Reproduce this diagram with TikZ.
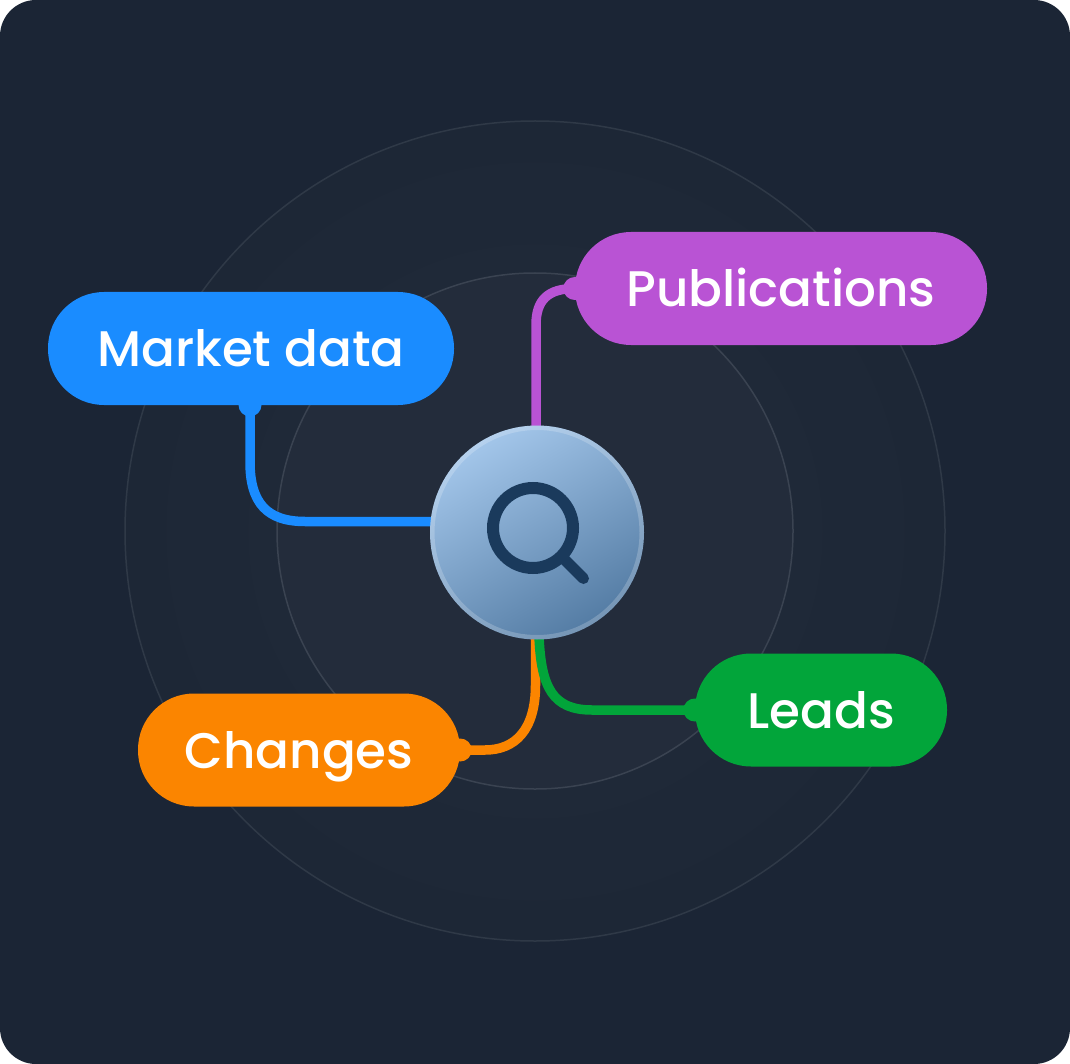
\documentclass[tikz,border=0pt]{standalone}
\usepackage{fontspec}
\setmainfont{Poppins Medium}
\definecolor{bgc}{HTML}{1B2535}
\definecolor{discA}{HTML}{1D2736}
\definecolor{discM}{HTML}{222C3B}
\definecolor{discB}{HTML}{232C3B}
\definecolor{ringA}{HTML}{2F3947}
\definecolor{ringB}{HTML}{3A4351}
\definecolor{blueC}{HTML}{1A8CFF}
\definecolor{purpleC}{HTML}{B953D4}
\definecolor{orangeC}{HTML}{FB8500}
\definecolor{greenC}{HTML}{02A53A}
\definecolor{iconC}{HTML}{1A3A5C}
\definecolor{hubA}{HTML}{A3C6EA}
\definecolor{hubB}{HTML}{547CA4}
\tikzset{
  pill/.style={rectangle,rounded corners=56pt,minimum height=113pt,inner sep=0pt,text=white,text height=36pt,text depth=0pt,font=\fontsize{50}{60}\selectfont},
  dot/.style={circle,minimum size=23pt,inner sep=0pt,fill=#1},
  wire/.style={line width=9.5pt,draw=#1},
}
\begin{document}
\begin{tikzpicture}[x=1pt,y=-1pt]
\useasboundingbox (0,0) rectangle (1070,1064);
\fill[white] (0,0) rectangle (1070,1064);
\fill[bgc,rounded corners=36pt] (0,0) rectangle (1070,1064);
\node[circle,minimum size=820pt,inner sep=0pt,inner color=discM,outer color=discA,draw=ringA,line width=1.5pt] (outer) at (535,531) {};
\node[circle,minimum size=516pt,inner sep=0pt,fill=discB,draw=ringB,line width=1.5pt] (inner) at (535,531) {};

\node[pill,fill=blueC,minimum width=406pt] (market) at (251,348.5) {Market data};
\node[pill,fill=purpleC,minimum width=412pt] (pub) at (781,288.5) {Publications};
\node[pill,fill=orangeC,minimum width=322pt] (changes) at (299,750) {Changes};
\node[pill,fill=greenC,minimum width=252pt] (leads) at (821,710) {Leads};

\node[dot=blueC] (dm) at (250,405) {};
\node[dot=purpleC] (dp) at (pub.west) {};
\node[dot=orangeC] (dc) at (changes.east) {};
\node[dot=greenC] (dl) at (leads.west) {};

\coordinate (hw) at (434,521.5);
\coordinate (hn) at (536,430);
\coordinate (hs1) at (535.5,636);
\coordinate (hs2) at (539,636);

\draw[wire=blueC] (dm.center) -- (250,462) .. controls (250,503) and (267,521.5) .. (305,521.5) -- (hw);
\draw[wire=purpleC] (hn) -- (536,325) .. controls (536,300) and (548,288.5) .. (dp.center);
\draw[wire=orangeC] (hs1) -- (535.5,685) .. controls (535.5,730) and (515,750) .. (485,750) -- (dc.center);
\draw[wire=greenC] (hs2) .. controls (541,688) and (553,710) .. (592,710) -- (dl.center);

\node[circle,minimum size=214pt,inner sep=0pt,outer sep=0pt,top color=hubA,bottom color=hubB,shading angle=30] (hub) at (537,532.5) {};
\node[circle,minimum size=209.5pt,inner sep=0pt,outer sep=0pt,draw=white,draw opacity=0.2,line width=4.5pt] (hubring) at (hub.center) {};
\coordinate (lens) at (533,528);
\draw[iconC,line width=12pt] (lens) circle[radius=40pt];
\draw[iconC,line width=11pt,line cap=round] (563,558) -- (583.5,578.5);
\end{tikzpicture}
\end{document}
